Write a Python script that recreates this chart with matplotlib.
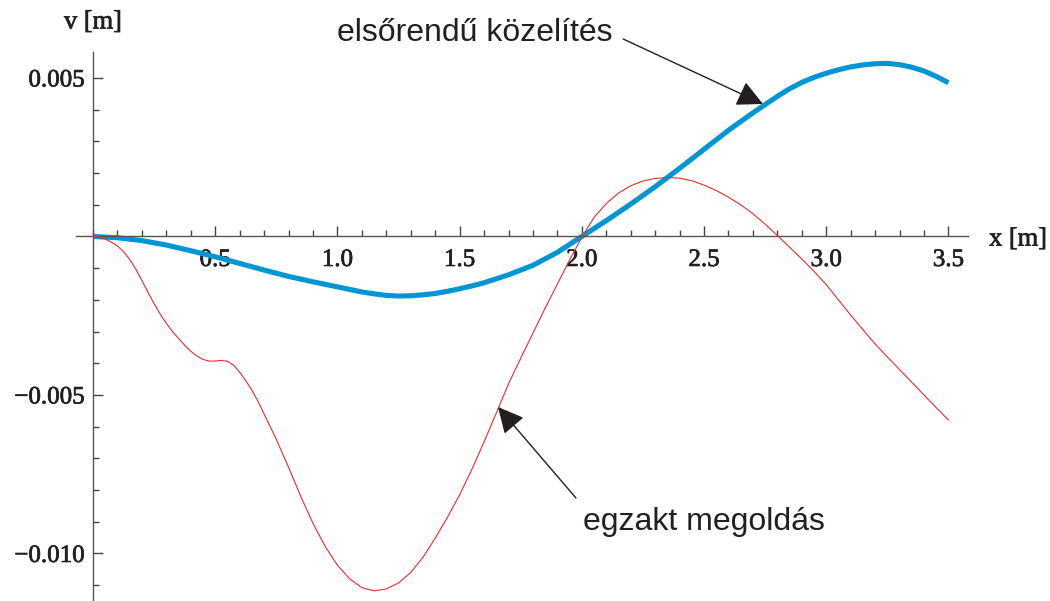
import matplotlib.pyplot as plt
import matplotlib.patheffects as pe
from matplotlib.ticker import MultipleLocator, FixedLocator, FixedFormatter

# first-order approximation (blue)
x_approx = [0.0, 0.1, 0.2, 0.3, 0.4, 0.5, 0.6, 0.7, 0.8, 0.9, 1.0, 1.05, 1.1,
            1.15, 1.2, 1.25, 1.3, 1.35, 1.4, 1.45, 1.5, 1.55, 1.6, 1.7, 1.8,
            1.9, 2.0, 2.1, 2.2, 2.3, 2.4, 2.5, 2.6, 2.7, 2.8, 2.85, 2.9, 2.95,
            3.0, 3.05, 3.1, 3.15, 3.2, 3.25, 3.3, 3.35, 3.4, 3.45, 3.5]
v_approx = [0.0, -0.00004, -0.00013, -0.00027, -0.00045, -0.00064, -0.00085,
            -0.00106, -0.00126, -0.00143, -0.00159, -0.00167, -0.00175,
            -0.00181, -0.00186, -0.00188, -0.00187, -0.00184, -0.00180,
            -0.00173, -0.00165, -0.00156, -0.00146, -0.00121, -0.00091,
            -0.00050, 0.00000, 0.00050, 0.00102, 0.00157, 0.00215, 0.00275,
            0.00335, 0.00390, 0.00442, 0.00466, 0.00486, 0.00502, 0.00515,
            0.00526, 0.00535, 0.00541, 0.00545, 0.00546, 0.00542, 0.00534,
            0.00522, 0.00505, 0.00485]

# exact solution (red), denser where it bends
x_exact = [0.0, 0.025, 0.05, 0.075, 0.1, 0.125, 0.15, 0.175, 0.2, 0.225,
           0.25, 0.275, 0.3, 0.325, 0.35, 0.375, 0.4, 0.425, 0.45, 0.475,
           0.5, 0.525, 0.55, 0.575, 0.6, 0.625, 0.65, 0.675, 0.7, 0.75, 0.8,
           0.85, 0.9, 0.95, 1.0, 1.05, 1.1, 1.15, 1.2, 1.25, 1.3, 1.35, 1.4,
           1.45, 1.5, 1.55, 1.6, 1.65, 1.7, 1.75, 1.8, 1.85, 1.9, 1.95, 2.0,
           2.05, 2.1, 2.15, 2.2, 2.25, 2.3, 2.35, 2.4, 2.45, 2.5, 2.55, 2.6,
           2.65, 2.7, 2.75, 2.8, 2.85, 2.9, 2.95, 3.0, 3.05, 3.1, 3.15, 3.2,
           3.25, 3.3, 3.35, 3.4, 3.45, 3.5]
v_exact = [0.0, -0.00002, -0.00008, -0.00018, -0.00030, -0.00048, -0.00072,
           -0.00103, -0.00139, -0.00176, -0.00212, -0.00245, -0.00274,
           -0.00300, -0.00322, -0.00343, -0.00362, -0.00377, -0.00388,
           -0.00393, -0.00393, -0.00391, -0.00394, -0.00406, -0.00428,
           -0.00455, -0.00485, -0.00520, -0.00560, -0.00640, -0.00728,
           -0.00820, -0.00905, -0.00978, -0.01037, -0.01080, -0.01108,
           -0.01118, -0.01112, -0.01093, -0.01060, -0.01012, -0.00952,
           -0.00886, -0.00815, -0.00735, -0.00648, -0.00557, -0.00465,
           -0.00384, -0.00305, -0.00226, -0.00150, -0.00074, -0.00002,
           0.00060, 0.00104, 0.00137, 0.00160, 0.00175, 0.00183, 0.00186,
           0.00184, 0.00176, 0.00162, 0.00145, 0.00124, 0.00100, 0.00072,
           0.00039, 0.00003, -0.00034, -0.00071, -0.00110, -0.00152,
           -0.00200, -0.00248, -0.00294, -0.00339, -0.00380, -0.00420,
           -0.00460, -0.00500, -0.00540, -0.00579]

x_major = [0.5, 1.0, 1.5, 2.0, 2.5, 3.0, 3.5]
x_labels = ["0.5", "1.0", "1.5", "2.0", "2.5", "3.0", "3.5"]
y_major = [-0.010, -0.005, 0.005]
y_labels = ["\u22120.010", "\u22120.005", "0.005"]

fig = plt.figure(figsize=(10.5, 6.01), dpi=100)
ax = fig.add_axes([0.0723, 0.0, 0.8496, 0.9135])

ax.plot(x_approx, v_approx, color="#0096d6", lw=3.7, solid_capstyle="butt",
        solid_joinstyle="round", zorder=2)
ax.plot(x_exact, v_exact, color="#ee2b2f", lw=0.8, solid_joinstyle="round",
        zorder=3)

ax.set_xlim(-0.07, 3.58)
ax.set_ylim(-0.0115, 0.00582)

# axes crossing at the origin
for side in ("top", "right"):
    ax.spines[side].set_visible(False)
ax.spines["left"].set_position(("data", 0))
ax.spines["bottom"].set_position(("data", 0))
for side in ("left", "bottom"):
    ax.spines[side].set_color("#555555")
    ax.spines[side].set_linewidth(1.0)

ax.xaxis.set_major_locator(FixedLocator(x_major))
ax.xaxis.set_major_formatter(FixedFormatter(x_labels))
ax.xaxis.set_minor_locator(MultipleLocator(0.1))
ax.yaxis.set_major_locator(FixedLocator(y_major))
ax.yaxis.set_major_formatter(FixedFormatter(y_labels))
ax.yaxis.set_minor_locator(MultipleLocator(0.001))

ink = "#231f20"
heavy = [pe.withStroke(linewidth=0.5, foreground=ink)]

ax.tick_params(which="both", direction="in", color="#444444", width=1.0)
ax.tick_params(which="major", length=7.5)
ax.tick_params(which="minor", length=4.5)
ax.tick_params(axis="x", which="major", pad=9)
ax.tick_params(axis="y", which="major", pad=6)
for lab in ax.get_xticklabels() + ax.get_yticklabels():
    lab.set_fontfamily("Liberation Serif")
    lab.set_fontsize(18)
    lab.set_color(ink)
    lab.set_path_effects(heavy)

ax.text(0.0, 0.00675, "v [m]", fontfamily="Liberation Serif", fontsize=19,
        ha="center", va="center", color=ink, path_effects=heavy)
ax.text(3.785, -0.0001, "x [m]", fontfamily="Liberation Serif", fontsize=19,
        ha="center", va="center", color=ink, path_effects=heavy, clip_on=False)

ann_font = {"fontfamily": "Liberation Sans", "fontsize": 23, "color": ink}
head = dict(arrowstyle="-|>,head_length=0.8,head_width=0.4", color=ink,
            lw=1.0, mutation_scale=20, shrinkA=0, shrinkB=0)

ax.text(1.563, 0.00642, "elsőrendű közelítés", ha="center", va="center", **ann_font)
ax.annotate("", xy=(2.741, 0.00418), xytext=(2.169, 0.00623), arrowprops=head)

ax.text(2.5, -0.00901, "egzakt megoldás", ha="center", va="center", **ann_font)
ax.annotate("", xy=(1.657, -0.00538), xytext=(1.976, -0.00825), arrowprops=head)

fig.savefig("out.png", dpi=100)
